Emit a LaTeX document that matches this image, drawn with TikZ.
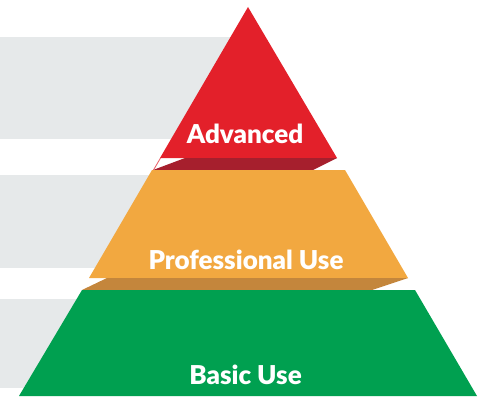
\documentclass[tikz,border=0pt]{standalone}
\usepackage{fontspec}
\setmainfont{Lato}
\newfontfamily\lblfont{Lato Black}
\definecolor{barGray}{HTML}{E6E9EA}
\definecolor{pyRed}{HTML}{E3202A}
\definecolor{pyRedDark}{HTML}{A61F2D}
\definecolor{pyOrange}{HTML}{F2A840}
\definecolor{pyTan}{HTML}{C4863C}
\definecolor{pyGreen}{HTML}{00A050}
\tikzset{
  bar/.style={fill=barGray, draw=none},
  level/.style={draw=none},
  lbl/.style={text=white, font=\lblfont\fontsize{26}{29}\selectfont, anchor=base, inner sep=0pt}
}
\begin{document}
\begin{tikzpicture}[x=1pt,y=-1pt]
\useasboundingbox (0,0) rectangle (486,396);
% gray bars
\fill[bar] (0,37) rectangle (240,139);
\fill[bar] (0,175) rectangle (200,268);
\fill[bar] (0,299) rectangle (150,388);
% top triangle
\fill[level, fill=pyRed] (248,7) -- (337,158) -- (160,158) -- cycle;
\fill[level, fill=pyRedDark] (185,158) -- (337,158) -- (313,170) -- (153,170) -- cycle;
\fill[level, fill=pyRed!70!white] (160,158) -- (161,158) -- (154,170) -- (153,170) -- cycle;
% middle trapezoid
\fill[level, fill=pyOrange] (152,170) -- (345,170) -- (408,278) -- (89,278) -- cycle;
\fill[level, fill=pyTan] (107,278) -- (408,278) -- (372,290) -- (82,290) -- cycle;
% bottom trapezoid
\fill[level, fill=pyGreen] (82,290) -- (415,290) -- (477,396) -- (19,396) -- cycle;
% labels
\node[lbl] (adv) at (245,143) {Advanced};
\node[lbl] (pro) at (246,269) {Professional Use};
\node[lbl] (bas) at (245.5,384) {Basic Use};
\end{tikzpicture}
\end{document}
